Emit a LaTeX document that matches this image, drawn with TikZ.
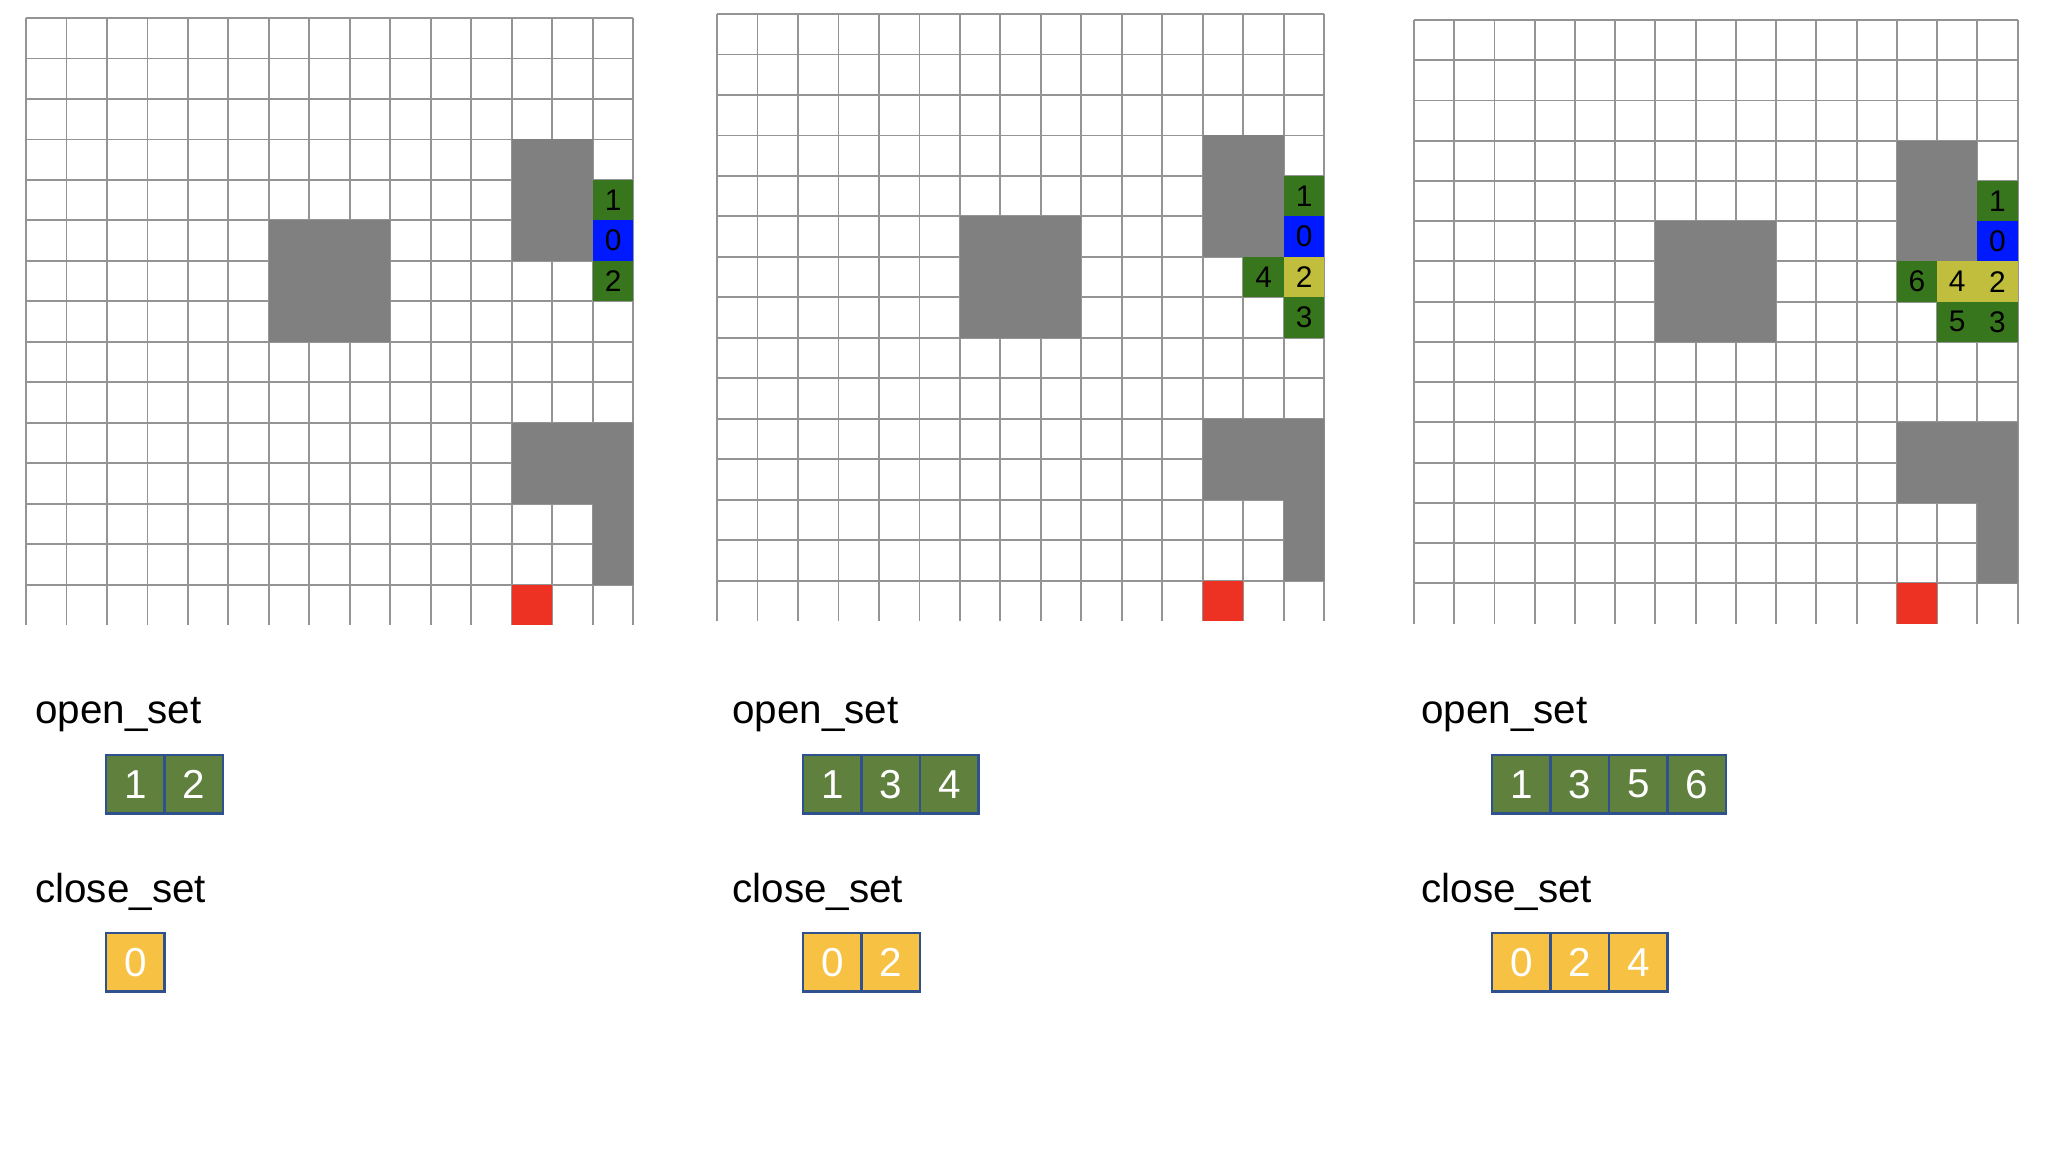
\documentclass[tikz,border=0pt]{standalone}
\usepackage{fontspec}
\setmainfont{Liberation Sans}
\usetikzlibrary{positioning}
\definecolor{wall}{RGB}{128,128,128}
\definecolor{gridline}{RGB}{148,148,148}
\definecolor{opencell}{RGB}{56,118,29}
\definecolor{startcell}{RGB}{0,25,255}
\definecolor{donecell}{RGB}{192,190,60}
\definecolor{goalcell}{RGB}{237,50,36}
\definecolor{openfill}{RGB}{96,128,62}
\definecolor{closefill}{RGB}{247,194,67}
\definecolor{setedge}{RGB}{47,82,143}

\tikzset{
  cellbox/.style={minimum size=0.81cm, inner sep=0pt, outer sep=0pt, font=\fontsize{17}{17}\selectfont},
  setbox/.style={draw=setedge, line width=1.3pt, minimum width=1.17cm, minimum height=1.17cm,
    inner sep=0pt, outer sep=0pt, text=white, font=\fontsize{23}{23}\selectfont},
  setlabel/.style={anchor=base west, inner sep=0pt, font=\fontsize{23}{23}\selectfont}
}

% empty map: grid, walls and goal
\newcommand{\gridmap}{%
  \foreach \i in {0,...,15} \draw[gridline, line width=1.1pt] (\i,0) -- (\i,15);
  \foreach \j in {0,...,14} \draw[gridline, line width=1.1pt] (0,\j) -- (15,\j);
  \fill[wall] (12,3) rectangle (14,6);
  \fill[wall] (6,5) rectangle (9,8);
  \fill[wall] (12,10) -- (15,10) -- (15,14) -- (14,14) -- (14,12) -- (12,12) -- cycle;
  \fill[goalcell] (12,14) rectangle (13,15);
}
% numbered cell: column, row, colour, label, name
\newcommand{\mapcell}[5]{\node[cellbox, fill=#3] (#5) at (#1+0.5,#2+0.5) {#4};}
% row of set boxes: name, x, y, colour, values
\newcommand{\setrow}[5]{%
  \foreach \v [count=\k] in {#5}
    \node[setbox, fill=#4, anchor=north west] (#1-\k) at (#2+\k*58.5-58.5,#3) {\v};
}

\begin{document}
\begin{tikzpicture}[x=0.02cm, y=-0.02cm]
  \useasboundingbox (0,0) rectangle (2060,1156);
  \fill[white] (0,0) rectangle (2060,1156);

  % step 1
  \begin{scope}[shift={(26,18)}, x=0.81cm, y=-0.81cm]
    \gridmap
    \mapcell{14}{4}{opencell}{1}{a1}
    \mapcell{14}{5}{startcell}{0}{a0}
    \mapcell{14}{6}{opencell}{2}{a2}
  \end{scope}
  \node[setlabel] (openA) at (35,723) {open\_set};
  \setrow{oa}{106}{755}{openfill}{1,2}
  \node[setlabel] (closeA) at (35,902) {close\_set};
  \setrow{ca}{106}{933}{closefill}{0}

  % step 2
  \begin{scope}[shift={(717,14)}, x=0.81cm, y=-0.81cm]
    \gridmap
    \mapcell{14}{4}{opencell}{1}{b1}
    \mapcell{14}{5}{startcell}{0}{b0}
    \mapcell{14}{6}{donecell}{2}{b2}
    \mapcell{13}{6}{opencell}{4}{b4}
    \mapcell{14}{7}{opencell}{3}{b3}
  \end{scope}
  \node[setlabel] (openB) at (732,723) {open\_set};
  \setrow{ob}{803}{755}{openfill}{1,3,4}
  \node[setlabel] (closeB) at (732,902) {close\_set};
  \setrow{cb}{803}{933}{closefill}{0,2}

  % step 3
  \begin{scope}[shift={(1414,20)}, x=0.805cm, y=-0.805cm]
    \gridmap
    \mapcell{14}{4}{opencell}{1}{c1}
    \mapcell{14}{5}{startcell}{0}{c0}
    \mapcell{14}{6}{donecell}{2}{c2}
    \mapcell{13}{6}{donecell}{4}{c4}
    \mapcell{12}{6}{opencell}{6}{c6}
    \mapcell{13}{7}{opencell}{5}{c5}
    \mapcell{14}{7}{opencell}{3}{c3}
  \end{scope}
  \node[setlabel] (openC) at (1421,723) {open\_set};
  \setrow{oc}{1492}{755}{openfill}{1,3,5,6}
  \node[setlabel] (closeC) at (1421,902) {close\_set};
  \setrow{cc}{1492}{933}{closefill}{0,2,4}
\end{tikzpicture}
\end{document}
